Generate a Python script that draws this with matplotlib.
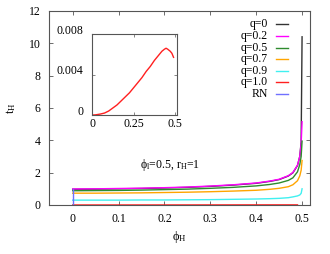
import matplotlib
matplotlib.use('Agg')
import matplotlib.pyplot as plt
import matplotlib.transforms as mtransforms

plt.rcParams['font.family'] = ['Liberation Serif', 'DejaVu Serif']
plt.rcParams['mathtext.fontset'] = 'custom'
plt.rcParams['mathtext.rm'] = 'Liberation Serif'
plt.rcParams['mathtext.it'] = 'Liberation Serif'

# phi_H grid and t_H values for each q
phi = [0, 0.05, 0.1, 0.15, 0.2, 0.25, 0.3, 0.35, 0.4, 0.43, 0.45, 0.47,
       0.48, 0.49, 0.495, 0.498, 0.5]
t_q0 = [0.97, 0.98, 1.0, 1.02, 1.05, 1.09, 1.15, 1.23, 1.34, 1.46, 1.57,
        1.79, 1.99, 2.44, 3.0, 3.9, 10.4]
t_q02 = [0.99, 1.0, 1.02, 1.04, 1.07, 1.11, 1.17, 1.25, 1.36, 1.48, 1.59,
         1.81, 2.01, 2.46, 3.0, 3.8, 5.15]
t_q05 = [0.88, 0.89, 0.9, 0.92, 0.95, 0.98, 1.03, 1.09, 1.18, 1.27, 1.36,
         1.52, 1.68, 2.05, 2.5, 3.0, 3.95]
t_q07 = [0.73, 0.73, 0.74, 0.75, 0.77, 0.79, 0.82, 0.86, 0.91, 0.97, 1.03,
         1.13, 1.25, 1.5, 1.8, 2.15, 2.75]
t_q09 = [0.3, 0.3, 0.3, 0.31, 0.31, 0.32, 0.33, 0.35, 0.37, 0.39, 0.41,
         0.45, 0.5, 0.56, 0.62, 0.72, 1.0]

# q=1.0 (also shown in the inset)
phi_q1 = [0, 0.02, 0.05, 0.075, 0.1, 0.125, 0.15, 0.175, 0.2, 0.225, 0.25,
          0.275, 0.3, 0.325, 0.35, 0.375, 0.4, 0.42, 0.435, 0.445, 0.455,
          0.47, 0.48, 0.49]
t_q1 = [0, 0.00002, 0.0001, 0.0002, 0.0004, 0.0007, 0.001, 0.0014, 0.0018,
        0.0022, 0.0027, 0.0032, 0.0037, 0.0043, 0.0048, 0.0054, 0.0059,
        0.0063, 0.0065, 0.0066, 0.0065, 0.0063, 0.0061, 0.0057]

# RN
phi_rn = [0, 0]
t_rn = [0, 1.0]

series = [
    ('q=0', phi, t_q0, '#333333'),
    ('q=0.2', phi, t_q02, '#ff00ff'),
    ('q=0.5', phi, t_q05, '#2e8b2e'),
    ('q=0.7', phi, t_q07, '#ffa500'),
    ('q=0.9', phi, t_q09, '#40f0f0'),
    ('q=1.0', phi_q1, t_q1, '#ff2020'),
    ('RN', phi_rn, t_rn, '#7070ff'),
]

fs = 8.5
frame = '#555555'

fig = plt.figure(figsize=(3.3, 2.54), dpi=100)
ax = fig.add_axes([0.148, 0.193, 0.791, 0.764])

for lab, x, y, c in series:
    ax.plot(x, y, color=c, lw=1.0)

ax.set_xlim(-0.052, 0.517)
ax.set_ylim(0, 12)
ax.set_xticks([0, 0.1, 0.2, 0.3, 0.4, 0.5])
ax.set_xticklabels(['0', '0.1', '0.2', '0.3', '0.4', '0.5'])
ax.set_yticks([0, 2, 4, 6, 8, 10, 12])
ax.tick_params(direction='in', length=3, width=0.6, color=frame,
               top=True, right=True, labelsize=fs, pad=6)
for s in ax.spines.values():
    s.set_color(frame)
    s.set_linewidth(0.8)

ax.set_xlabel(r'$\mathrm{\phi_H}$', fontsize=fs + 0.5, labelpad=3)
ax.set_ylabel(r'$\mathrm{t_H}$', fontsize=fs + 0.5, labelpad=8)
ax.text(0.146, 2.47, r'$\mathrm{\phi_l}$=0.5, r$\mathrm{_H}$=1', fontsize=fs,
        va='center', ha='left')

# legend, gnuplot style: right aligned text, sample on the right
y0 = 0.931
dy = 0.0598
for i, (lab, x, y, c) in enumerate(series):
    yy = y0 - i * dy
    ax.text(0.839, yy, lab, transform=ax.transAxes, ha='right', va='center',
            fontsize=fs)
    ax.plot([0.87, 0.916], [yy, yy], color=c, lw=1.0,
            transform=ax.transAxes, clip_on=False)

# inset
ins = fig.add_axes([0.279, 0.547, 0.258, 0.319])
ins.plot(phi_q1, t_q1, color='#ff2020', lw=1.0)
ins.set_xlim(0, 0.512)
ins.set_ylim(0, 0.008)
ins.set_xticks([0, 0.25, 0.5])
ins.set_xticklabels(['0', '0.25', '0.5'])
ins.set_yticks([0, 0.004, 0.008])
ins.set_yticklabels(['0', '0.004', '0.008'])
ins.tick_params(direction='in', length=2, width=0.5, color=frame,
                top=True, right=True, labelsize=fs, pad=6)
ins.tick_params(axis='x', pad=2)
for s in ins.spines.values():
    s.set_color(frame)
    s.set_linewidth(0.8)
off = mtransforms.ScaledTranslation(0, 5 / 100, fig.dpi_scale_trans)
for lbl in ins.get_yticklabels():
    lbl.set_transform(lbl.get_transform() + off)

fig.savefig('out.png', dpi=100)
